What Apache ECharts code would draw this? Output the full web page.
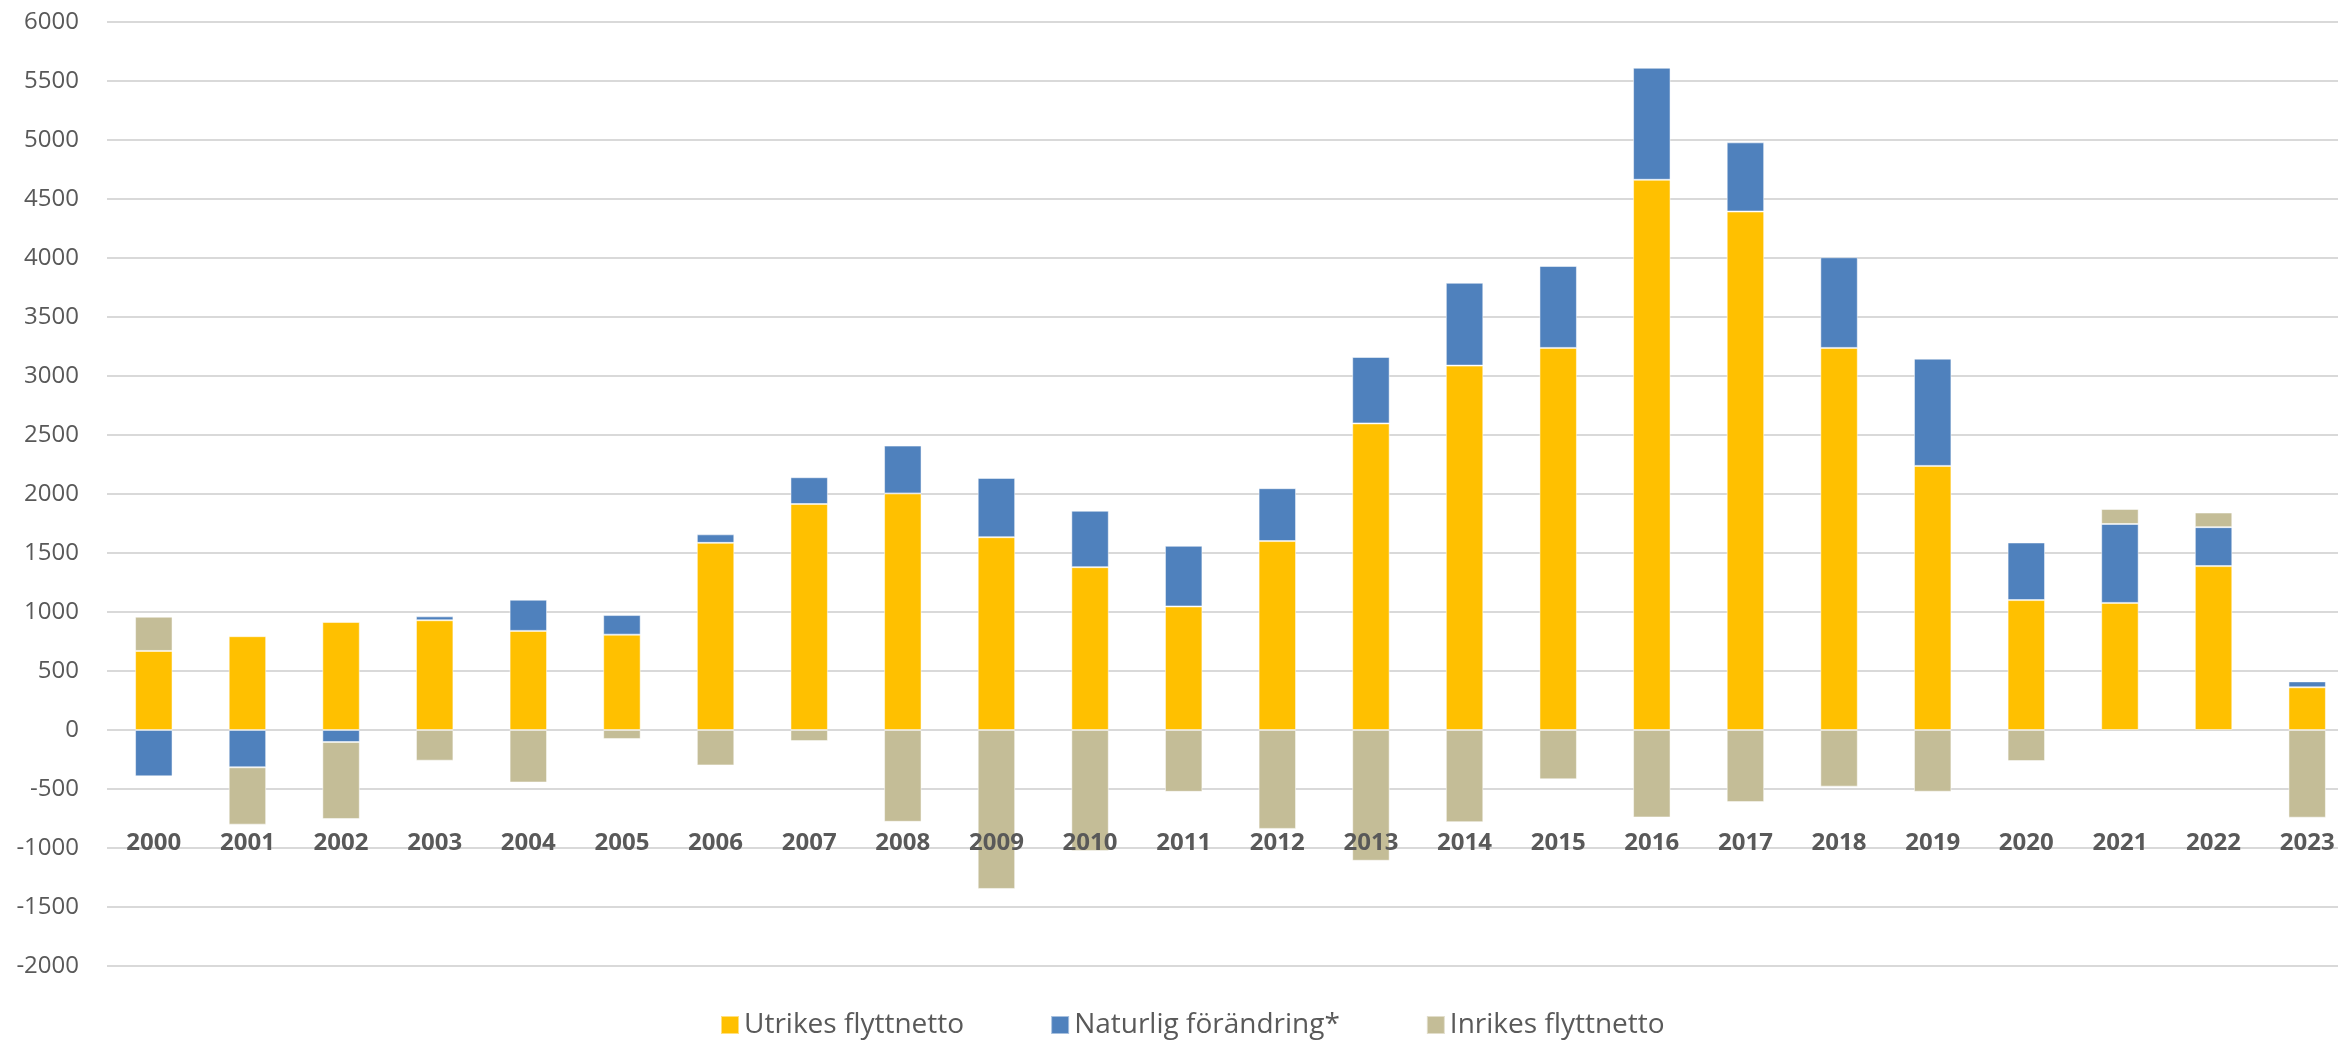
<!DOCTYPE html>
<html>
<head>
<meta charset="utf-8">
<script src="https://cdn.jsdelivr.net/npm/echarts@6/dist/echarts.min.js"></script>
<style>
  html, body { margin: 0; padding: 0; background: #fff; }
  #chart { width: 2338px; height: 1040px; }
</style>
</head>
<body>
<div id="chart"></div>
<script>
// år
var years = ['2000', '2001', '2002', '2003', '2004', '2005', '2006', '2007', '2008', '2009', '2010', '2011',
  '2012', '2013', '2014', '2015', '2016', '2017', '2018', '2019', '2020', '2021', '2022', '2023'];
// serier
var utrikes = [670, 795, 915, 930, 840, 808, 1586, 1915, 2005, 1634, 1380, 1047,
  1601, 2598, 3088, 3238, 4663, 4394, 3238, 2238, 1101, 1077, 1389, 362];
var naturlig = [-393, -316, -102, 33, 264, 166, 72, 227, 405, 502, 478, 514,
  448, 563, 702, 694, 949, 586, 768, 909, 488, 669, 330, 50];
var inrikes = [290, -486, -652, -260, -445, -76, -300, -94, -778, -1347, -1025, -524,
  -838, -1108, -781, -418, -741, -611, -480, -523, -263, 127, 124, -743];

var font = '"Open Sans", "Noto Sans", sans-serif';
var mycharts = echarts.init(document.getElementById('chart'));

function bar(name, data, color) {
  return {
    name: name,
    type: 'bar',
    stack: 'total',
    barWidth: '40%',
    data: data,
    itemStyle: { color: color, borderColor: 'rgba(255,255,255,0.5)', borderWidth: 1 }
  };
}

mycharts.setOption({
  animation: false,
  grid: { left: 107, right: -16, top: 22, bottom: 74, containLabel: false, outerBoundsMode: 'none' },
  legend: {
    left: 715,
    top: 1006,
    itemWidth: 18,
    itemHeight: 18,
    itemGap: 86,
    icon: 'rect',
    textStyle: { fontFamily: font, fontSize: 28, color: '#595959' }
  },
  xAxis: {
    type: 'category',
    data: years,
    z: 5, // årtalen ritas ovanpå staplarna
    axisLine: { show: false, onZero: false },
    axisTick: { show: false },
    // etiketterna ligger mellan -500 och -1000
    axisLabel: { margin: -135, fontFamily: font, fontSize: 24, fontWeight: 'bold', color: '#595959' }
  },
  yAxis: {
    type: 'value',
    min: -2000,
    max: 6000,
    interval: 500,
    axisLine: { show: false },
    axisTick: { show: false },
    axisLabel: {
      margin: 28, fontFamily: font, fontSize: 24, color: '#595959',
      formatter: function (v) { return String(v); }
    },
    splitLine: { lineStyle: { color: '#d9d9d9', width: 2 } }
  },
  series: [
    bar('Utrikes flyttnetto', utrikes, '#FFC000'),
    bar('Naturlig förändring*', naturlig, '#4F81BD'),
    bar('Inrikes flyttnetto', inrikes, '#C4BD97')
  ]
});
</script>
</body>
</html>
